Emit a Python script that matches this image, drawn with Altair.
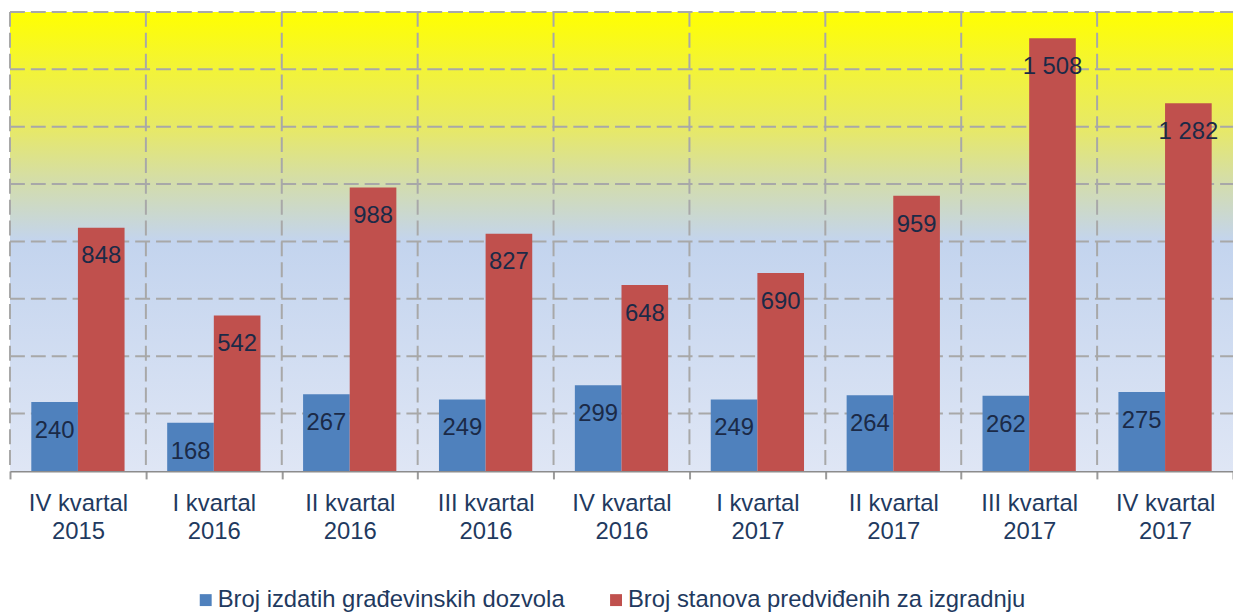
import altair as alt
import pandas as pd

categories = ["IV kvartal\n2015", "I kvartal\n2016", "II kvartal\n2016", "III kvartal\n2016",
              "IV kvartal\n2016", "I kvartal\n2017", "II kvartal\n2017", "III kvartal\n2017",
              "IV kvartal\n2017"]
series_names = ["Broj izdatih građevinskih dozvola", "Broj stanova predviđenih za izgradnju"]
dozvole = [240, 168, 267, 249, 299, 249, 264, 262, 275]
stanovi = [848, 542, 988, 827, 648, 690, 959, 1508, 1282]
colors = ["#4F81BD", "#C0504D"]
y_ticks = [0, 200, 400, 600, 800, 1000, 1200, 1400, 1600]

rows = []
for i, c in enumerate(categories):
    rows.append({"kat": c, "serija": series_names[0], "v": dozvole[i],
                 "lab": f"{dozvole[i]:,}".replace(",", " ")})
    rows.append({"kat": c, "serija": series_names[1], "v": stanovi[i],
                 "lab": f"{stanovi[i]:,}".replace(",", " ")})
df = pd.DataFrame(rows)
df_cat = pd.DataFrame({"kat": categories})
df_y = pd.DataFrame({"v": y_ticks[1:]})

W, H = 1231, 462
FONT = "Liberation Sans"
NAVY = "#1F3A60"
GRID = "#A8A8A8"
DASH = [15, 6]
xsort = categories
xscale = alt.Scale(paddingInner=0, paddingOuter=0)
yscale = alt.Scale(domain=[0, 1600], nice=False)
xaxis = alt.Axis(title=None, labelAngle=0, tickBand="extent",
                 labelExpr="split(datum.label, '\\n')",
                 labelFont=FONT, labelFontSize=24, labelColor=NAVY,
                 labelLineHeight=28, labelPadding=13, labelBaseline="top",
                 tickSize=8, tickColor="#9A9A9A", tickWidth=2,
                 domainColor="#8C8C8C", domainWidth=2, grid=False)

bg = alt.Chart(pd.DataFrame({"a": [0]})).mark_rect(
    color=alt.Gradient(
        gradient="linear", x1=0, x2=0, y1=0, y2=1,
        stops=[
            alt.GradientStop(offset=0.0, color="#FFFF00"),
            alt.GradientStop(offset=0.13, color="#F2F33A"),
            alt.GradientStop(offset=0.26, color="#E6E86A"),
            alt.GradientStop(offset=0.38, color="#D2DCB0"),
            alt.GradientStop(offset=0.5, color="#C3D4EE"),
            alt.GradientStop(offset=1.0, color="#DFE6F5"),
        ],
    )
).encode(x=alt.value(0), x2=alt.value(W), y=alt.value(0), y2=alt.value(H))

hgrid = alt.Chart(df_y).mark_rule(color=GRID, strokeDash=DASH, strokeWidth=2).encode(
    y=alt.Y("v:Q", scale=yscale, axis=None), x=alt.value(0), x2=alt.value(W))

vgrid = alt.Chart(df_cat).mark_rule(color=GRID, strokeDash=DASH, strokeWidth=2).encode(
    x=alt.X("kat:N", sort=xsort, scale=xscale, bandPosition=0, axis=xaxis),
    y=alt.value(0), y2=alt.value(H))

xenc = alt.X("kat:N", sort=xsort, scale=xscale, axis=xaxis)
yenc = alt.Y("v:Q", scale=yscale, axis=None)
xoff = alt.XOffset("serija:N", sort=series_names,
                   scale=alt.Scale(paddingInner=0, paddingOuter=0.457))

bars = alt.Chart(df).mark_bar().encode(
    x=xenc, y=yenc, xOffset=xoff,
    color=alt.Color("serija:N", sort=series_names,
                    scale=alt.Scale(domain=series_names, range=colors),
                    legend=alt.Legend(title=None, orient="none", legendX=185, legendY=580,
                                      direction="horizontal", columns=2, columnPadding=39,
                                      symbolType="square", symbolSize=144, symbolStrokeWidth=0,
                                      labelFont=FONT, labelFontSize=24, labelColor=NAVY,
                                      labelLimit=800, labelOffset=0, padding=0)),
)

labels = alt.Chart(df).mark_text(font=FONT, fontSize=24, color="#1B2A47",
                                 baseline="middle", dy=29).encode(
    x=xenc, y=yenc, xOffset=xoff, text="lab:N")

chart = alt.layer(bg, hgrid, vgrid, bars, labels).properties(
    width=W, height=H,
    autosize=alt.AutoSizeParams(type="none"),
    padding={"left": 2, "top": 2, "right": 0, "bottom": 141},
).configure_view(stroke=None)

chart.save("out.html", embed_options={"renderer": "svg", "actions": False})
